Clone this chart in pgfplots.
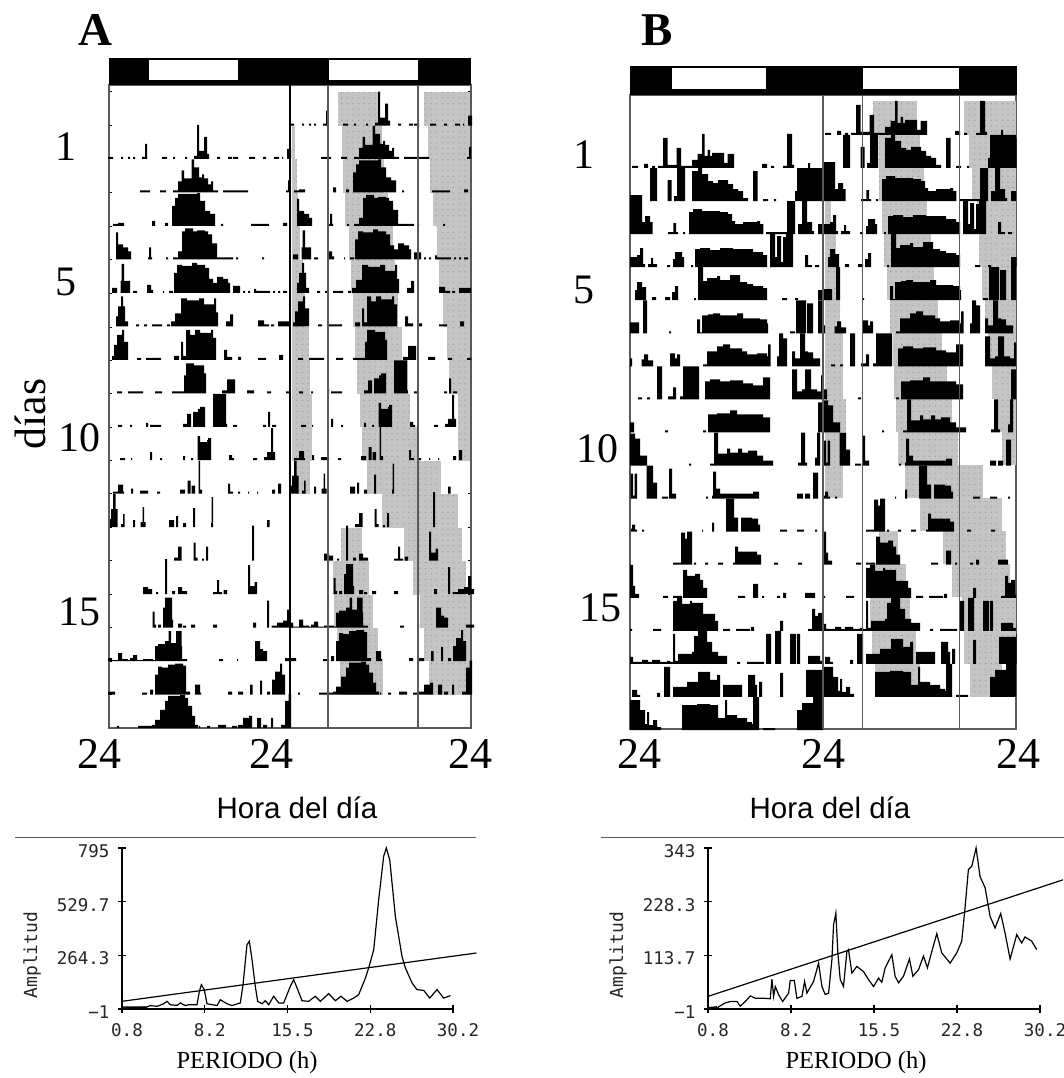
\documentclass[border=0pt]{standalone}
\usepackage{fontspec}
\usepackage{pgfplots}
\pgfplotsset{compat=1.18}
\usetikzlibrary{patterns}
\setmainfont{Liberation Serif}
\newfontfamily\arial{Liberation Sans}
\newfontfamily\monof{DejaVu Sans Mono}
\newcommand\fs[1]{\fontsize{#1pt}{#1pt}\selectfont}
\pgfdeclarepatternformonly{gdots}{\pgfqpoint{-1pt}{-1pt}}{\pgfqpoint{1pt}{1pt}}{\pgfqpoint{5.6pt}{5.6pt}}{\pgfpathcircle{\pgfqpoint{0pt}{0pt}}{0.55pt}\pgfusepath{fill}}
\definecolor{bandg}{HTML}{C4C4C4}
\definecolor{bandd}{HTML}{8E8E8E}
\definecolor{axg}{HTML}{5A5A5A}
\pgfplotsset{
  acto/.style={scale only axis,clip=false,axis line style={draw=axg,line width=1.4pt},xtick=\empty,yticklabels={},tick style={draw=black,line width=1pt}},
  period/.style={scale only axis,clip=false,width=331pt,height=161pt,axis lines=left,axis line style={-,black,line width=1.4pt},
    tick align=center,major tick length=8pt,tick style={black,line width=1.2pt},
    xmin=0.8,xmax=30.2,xtick={0.8,8.15,15.5,22.85,30.2},xticklabels={0.8,8.2,15.5,22.8,30.2},
    ticklabel style={font=\monof\fs{17.5},text=black!85},
    xticklabel style={xshift=5pt,yshift=-7pt},yticklabel style={xshift=-5pt,yshift=-3pt}},
  bar/.style={fill=black,draw=none,const plot},
  gb/.style={fill=bandg,draw=none,postaction={pattern=gdots,pattern color=bandd}},
  cur/.style={black,line width=1.2pt,sharp plot},
}
% one blob of activity of day #1, starting at x=#2: plotted in its row and, double-plotted, one row up and 24 h to the right
\newcommand\A[3]{%
 \addplot[bar] table[row sep=\\,x expr=\thisrowno{0},y expr=-(159+33.47*#1-\thisrowno{1})]{#2 0\\#2 #3};
 \addplot[bar] table[row sep=\\,x expr=\thisrowno{0}+181,y expr=-(125.53+33.47*#1-\thisrowno{1})]{#2 0\\#2 #3};}
\newcommand\B[3]{%
 \addplot[bar] table[row sep=\\,x expr=\thisrowno{0},y expr=-(168+33.06*#1-\thisrowno{1})]{#2 0\\#2 #3};
 \addplot[bar] table[row sep=\\,x expr=\thisrowno{0}+193,y expr=-(134.94+33.06*#1-\thisrowno{1})]{#2 0\\#2 #3};}
\newcommand\bandA[3]{\addplot[gb] table[row sep=\\,y expr=-(92.5+33.47*(#1+\thisrowno{1}))]{#2 0\\#3 0\\#3 1\\#2 1\\};}
\newcommand\bandB[3]{\addplot[gb] table[row sep=\\,y expr=-(101.5+33.06*(#1+\thisrowno{1}))]{#2 0\\#3 0\\#3 1\\#2 1\\};}
\begin{document}
\begin{tikzpicture}
\path[use as bounding box] (0,0) rectangle (1064pt,-1078pt);
%---------------- actogram A
\begin{axis}[acto,at={(109pt,-728pt)},anchor=south west,width=362pt,height=643pt,
  xmin=109,xmax=471,ymin=-728,ymax=-85,major tick length=3pt,
  ytick={-92,-126,-159,-192,-226,-259,-293,-327,-360,-393,-427,-460,-493,-527,-560,-594,-627,-661,-694}]
\bandA{0}{338}{378}\bandA{0}{424}{470}
\bandA{1}{342}{382}\bandA{1}{428}{470}\bandA{1}{292}{295}
\bandA{2}{343}{384}\bandA{2}{430}{470}\bandA{2}{292}{297}
\bandA{3}{345}{388}\bandA{3}{433}{470}\bandA{3}{292}{298}
\bandA{4}{349}{393}\bandA{4}{437}{470}\bandA{4}{292}{300}
\bandA{5}{351}{395}\bandA{5}{439}{470}\bandA{5}{292}{303}
\bandA{6}{353}{398}\bandA{6}{443}{470}\bandA{6}{292}{305}
\bandA{7}{355}{402}\bandA{7}{447}{470}\bandA{7}{292}{309}
\bandA{8}{357}{408}\bandA{8}{449}{470}\bandA{8}{292}{310}
\bandA{9}{360}{410}\bandA{9}{458}{470}\bandA{9}{292}{312}
\bandA{10}{362}{418}\bandA{10}{458}{470}\bandA{10}{292}{312}
\bandA{11}{367}{441}\bandA{11}{296}{310}
\bandA{12}{382}{458}
\bandA{13}{341}{362}\bandA{13}{404}{462}
\bandA{14}{333}{369}\bandA{14}{413}{466}
\bandA{15}{334}{373}\bandA{15}{420}{470}
\bandA{16}{337}{378}\bandA{16}{424}{470}
\bandA{17}{340}{383}\bandA{17}{429}{470}
\A{0}{108}{2\\113 0\\}\A{0}{121}{2\\123 0\\}\A{0}{128}{2\\130 0\\}\A{0}{133}{2\\135 0\\}\A{0}{142}{2\\147 0\\}\A{0}{145}{15\\147 0\\}\A{0}{162}{2\\167 0\\}\A{0}{173}{2\\175 0\\}\A{0}{185}{2\\187 0\\}
\A{0}{194}{3\\197 34\\199 8\\204 22\\207 5\\209 0\\}\A{0}{217}{2\\220 0\\}\A{0}{228}{2\\232 0\\}\A{0}{233}{2\\238 0\\}\A{0}{249}{2\\255 0\\}\A{0}{263}{2\\266 0\\}\A{0}{274}{2\\279 0\\}\A{0}{282}{2\\283 0\\}\A{0}{287}{10\\291 0\\}
\A{1}{140}{2\\150 0\\}\A{1}{160}{2\\166 0\\}\A{1}{173}{2\\178 11\\181.5 22\\184 14\\191.7 33\\194 25\\199 15\\202 18\\204 14\\208 8\\211 11\\213 2\\218 0\\}\A{1}{223}{2\\248 0\\}\A{1}{286}{2\\288 12\\290 0\\}
\A{2}{113}{2\\118 3\\124 0\\}\A{2}{152}{5\\155 0\\}\A{2}{165}{3\\168 0\\}\A{2}{172}{20\\175 28\\178 32\\197 33\\200 25\\205 15\\210 12\\215 0\\}\A{2}{221}{2\\223 0\\}\A{2}{251}{2\\269 0\\}\A{2}{283}{3\\287 0\\}
\A{3}{116}{27\\118 15\\123 12\\128 8\\131 0\\}\A{3}{148}{2\\149 12\\151 2\\152 0\\}\A{3}{166}{2\\168 0\\}\A{3}{173}{2\\178 8\\182 28\\185 31\\193 28\\197 29\\205 28\\208 25\\212 16\\217 2\\233 0\\}\A{3}{236}{2\\238 0\\}\A{3}{262}{2\\264 0\\}
\A{4}{112}{5\\117 0\\}\A{4}{120.5}{12\\121.5 29\\124 12\\130 0\\}\A{4}{133}{2\\137 0\\}\A{4}{147}{8\\151 3\\153 0\\}\A{4}{163}{2\\164 0\\}\A{4}{169}{2\\173 0\\}\A{4}{174}{20\\177 28\\182 27\\192 30\\197 28\\200 28\\205 25\\209 14\\213 10\\217 16\\223 14\\228 10\\230 0\\}\A{4}{233}{7\\240 0\\}\A{4}{243}{2\\245 0\\}\A{4}{248}{2\\250 0\\}\A{4}{254}{4\\256 2\\270 0\\}\A{4}{273}{2\\275 0\\}\A{4}{278}{2\\280 0\\}\A{4}{283}{2\\287 0\\}
\A{5}{116}{10\\118 20\\121 30\\123 20\\125 5\\128 0\\}\A{5}{136}{2\\139 0\\}\A{5}{144}{2\\147 0\\}\A{5}{152}{2\\162 0\\}\A{5}{167}{2\\170 0\\}\A{5}{171}{5\\175 13\\181 28\\187 26\\199 28\\204 22\\214 28\\216 14\\218 0\\}\A{5}{226}{5\\230 12\\233 0\\}\A{5}{258}{6\\264 2\\269 0\\}\A{5}{271}{2\\274 0\\}\A{5}{278}{5\\290 0\\}
\A{6}{112}{4\\114 15\\117 25\\122 30\\124 18\\128 0\\}\A{6}{137}{2\\141 0\\}\A{6}{146}{2\\161 0\\}\A{6}{174}{4\\179 0\\}\A{6}{181}{18\\183 4\\186 30\\190 25\\195 30\\200 27\\211 30\\213 22\\216 0\\}\A{6}{224}{10\\227 3\\232 0\\}\A{6}{238}{3\\241 0\\}\A{6}{258}{2\\266 0\\}\A{6}{279}{5\\283 0\\}
\A{7}{117}{2\\122 0\\}\A{7}{128}{2\\143 0\\}\A{7}{155}{2\\162 0\\}\A{7}{172}{2\\184 18\\186 30\\194 28\\204 20\\206 0\\}\A{7}{222}{3\\227 14\\232 14\\235 0\\}\A{7}{247}{3\\254 0\\}\A{7}{267}{2\\271 0\\}\A{7}{286}{2\\290 0\\}
\A{8}{118}{2\\122 0\\}\A{8}{130}{2\\132 0\\}\A{8}{146}{4\\148 0\\}\A{8}{150}{2\\161 0\\}\A{8}{183}{3\\187 13\\191 0\\}\A{8}{193}{15\\198 18\\200 20\\205 0\\}\A{8}{213}{33\\226 3\\227 0\\}\A{8}{233}{2\\237 0\\}\A{8}{263}{2\\266 0\\}\A{8}{268}{15\\270 0\\}\A{8}{272}{2\\276 0\\}
\A{9}{120}{2\\125 0\\}\A{9}{131}{2\\132 0\\}\A{9}{150}{8\\152 0\\}\A{9}{160}{2\\162 0\\}\A{9}{183}{4\\185 0\\}\A{9}{191}{2\\193 0\\}\A{9}{197.5}{24\\200 18\\207 20\\208 22\\211 0\\}\A{9}{229}{5\\232 2\\234 0\\}\A{9}{253}{2\\257 0\\}\A{9}{264}{3\\267 8\\271 32\\273 8\\275 0\\}
\A{10}{113}{2\\118 9\\123 2\\124 0\\}\A{10}{131}{5\\133 0\\}\A{10}{140}{3\\148 0\\}\A{10}{157}{2\\160 0\\}\A{10}{180}{4\\185 0\\}\A{10}{187.5}{13\\190.5 0\\}\A{10}{191.5}{8\\195 0\\}\A{10}{198.7}{33\\200 4\\202 0\\}\A{10}{228}{10\\230 2\\233 0\\}\A{10}{238}{2\\240 0\\}\A{10}{248}{2\\249 0\\}\A{10}{257}{2\\258 0\\}\A{10}{272}{4\\275 0\\}\A{10}{278}{10\\281 0\\}
\A{11}{110}{8\\111 18\\113 33\\115.5 18\\117.5 0\\}\A{11}{121}{3\\123 13\\124.5 0\\}\A{11}{133}{7\\135 0\\}\A{11}{140.5}{5\\142.5 20\\144 5\\145.5 0\\}\A{11}{169}{7\\174 0\\}\A{11}{176}{11\\178 0\\}\A{11}{183}{4\\186 0\\}\A{11}{193}{19\\195 0\\}\A{11}{211}{4\\211.5 30\\213 0\\}\A{11}{267}{7\\269.5 0\\}
\A{12}{174}{3\\178 14\\181.7 0\\}\A{12}{193.5}{18\\195.5 3\\197.5 0\\}\A{12}{202}{2\\204 0\\}\A{12}{206}{14\\208 0\\}\A{12}{252}{35\\254 0\\}
\A{13}{143}{7\\148 5\\152 0\\}\A{13}{156}{2\\158 0\\}\A{13}{165}{35\\167 0\\}\A{13}{172}{3\\175 0\\}\A{13}{178}{7\\182 3\\187 0\\}\A{13}{213}{2\\217 14\\219 2\\222 0\\}\A{13}{223.5}{4\\227 0\\}\A{13}{248}{29\\250 8\\254.5 12\\257 0\\}
\A{14}{152.5}{16\\154.5 3\\156 0\\}\A{14}{158}{3\\161 0\\}\A{14}{163}{20\\165 30\\172 8\\173 0\\}\A{14}{178}{4\\182 0\\}\A{14}{183}{2\\186 0\\}\A{14}{191}{3\\195 0\\}\A{14}{213}{3\\217 0\\}\A{14}{253}{5\\256 0\\}\A{14}{267}{27\\269 0\\}\A{14}{271.5}{2\\277 5\\283 7\\287 18\\290 5\\293 0\\}
\A{15}{108}{3\\112 1\\118 8\\122 2\\128 1\\130 3\\133 6\\137 1\\143 2\\153 1\\155 15\\158 17\\165 20\\168.5 30\\171 18\\176 30\\181.5 15\\182 2\\187 0\\}\A{15}{219}{2\\223 0\\}\A{15}{237}{2\\238 0\\}\A{15}{255}{20\\260 12\\263 10\\267 0\\}\A{15}{285}{3\\293 0\\}
\A{16}{108}{3\\115 0\\}\A{16}{142}{2\\147 0\\}\A{16}{150}{5\\153 0\\}\A{16}{155}{20\\158 28\\162 27\\168 30\\175 31\\183 29\\186 3\\190 0\\}\A{16}{195}{10\\200 2\\201 0\\}\A{16}{228}{3\\232 0\\}\A{16}{238}{3\\243 0\\}\A{16}{250}{10\\252.5 0\\}\A{16}{260}{14\\262 0\\}\A{16}{267}{3\\270 0\\}\A{16}{272}{15\\275 23\\280 31\\282 20\\285 0\\}
\A{17}{117}{2\\119 0\\}\A{17}{138}{2\\152 3\\155 8\\160 18\\165 27\\168 32\\180 33\\185 30\\188 22\\192 12\\195 3\\198 0\\}\A{17}{199}{2\\200 0\\}\A{17}{207}{2\\210 0\\}\A{17}{218}{3\\226 0\\}\A{17}{232}{2\\237 0\\}\A{17}{238}{3\\243 10\\249 12\\252 0\\}\A{17}{257}{10\\261 0\\}\A{17}{263}{3\\267 0\\}\A{17}{271}{10\\273 0\\}\A{17}{281}{3\\285 27\\288.5 34\\291 0\\}
\end{axis}
%---------------- actogram B
\begin{axis}[acto,at={(630pt,-729pt)},anchor=south west,width=386pt,height=634pt,
  xmin=630,xmax=1016,ymin=-729,ymax=-95,ytick=\empty]
\bandB{0}{873}{917}\bandB{0}{964}{1016}
\bandB{1}{879}{920}\bandB{1}{969}{1016}
\bandB{2}{879}{924}\bandB{2}{972}{1016}
\bandB{3}{882}{927}\bandB{3}{977}{1016}\bandB{3}{825}{831}
\bandB{4}{884}{931}\bandB{4}{979}{1016}\bandB{4}{825}{836}
\bandB{5}{887}{934}\bandB{5}{982}{1016}\bandB{5}{825}{839}
\bandB{6}{890}{938}\bandB{6}{985}{1016}\bandB{6}{825}{840}
\bandB{7}{893}{942}\bandB{7}{988}{1016}\bandB{7}{825}{843}
\bandB{8}{894}{947}\bandB{8}{992}{1016}\bandB{8}{825}{843}
\bandB{9}{896}{952}\bandB{9}{997}{1016}\bandB{9}{825}{846}
\bandB{10}{898}{958}\bandB{10}{1002}{1016}\bandB{10}{825}{840}
\bandB{11}{905}{983}\bandB{11}{825}{843}
\bandB{12}{920}{1002}
\bandB{13}{943}{1006}\bandB{13}{879}{898}
\bandB{14}{952}{1010}\bandB{14}{870}{906}
\bandB{15}{962}{1016}\bandB{15}{870}{910}
\bandB{16}{964}{1016}\bandB{16}{872}{916}
\bandB{17}{970}{1002}\bandB{17}{875}{920}
\B{0}{632}{2\\638 0\\}\B{0}{644}{4\\648 0\\}\B{0}{652}{2\\655 0\\}\B{0}{658}{2\\663 30\\667.5 3\\676.5 20\\681 2\\692 8\\697.5 14\\702 34\\704.5 12\\707.5 18\\710 12\\712 15\\724 5\\727.5 14\\734 0\\}\B{0}{762}{4\\767 0\\}\B{0}{771}{2\\774 0\\}\B{0}{783}{2\\787 34\\792 3\\794 0\\}
\B{1}{650}{33\\657 0\\}\B{1}{667.7}{21\\671.7 0\\}\B{1}{674}{5\\677 33\\685 0\\}\B{1}{692}{30\\698 33\\702 27\\708 20\\713 18\\718 21\\728 17\\733 12\\738 10\\743 3\\748 0\\}\B{1}{753}{30\\757.5 0\\}\B{1}{763}{2\\768 0\\}\B{1}{774}{2\\776 0\\}\B{1}{795}{10\\797 33\\808 38\\810 33\\823 30\\823.5 0\\}
\B{2}{630}{39\\642 12\\645 18\\650 12\\652.7 0\\}\B{2}{668}{2\\673.3 11\\676 2\\678 0\\}\B{2}{683}{2\\685 0\\}\B{2}{689}{22\\693 25\\702 23\\720 22\\728 20\\732 13\\735 10\\743 12\\757 13\\760 10\\763.3 0\\}\B{2}{766}{2\\787 33\\795 0\\}\B{2}{798}{10\\802 33\\807 12\\812 3\\814 0\\}\B{2}{818}{10\\823 0\\}
\B{3}{630}{10\\637 12\\640 19\\643 3\\645 0\\}\B{3}{648}{3\\651 9\\653 3\\657 0\\}\B{3}{667}{2\\670 0\\}\B{3}{673}{8\\675 15\\682 10\\684 0\\}\B{3}{691}{2\\693 0\\}\B{3}{695}{18\\700 19\\710 17\\720 19\\733 18\\753 15\\763 12\\767 0\\}\B{3}{770}{33\\775 10\\777 31\\781 5\\783 30\\786 33\\793 0\\}\B{3}{805}{12\\808 2\\812 0\\}\B{3}{815}{2\\819 0\\}
\B{4}{635}{10\\637 18\\642 13\\646 0\\}\B{4}{652}{3\\656 0\\}\B{4}{665}{3\\670 0\\}\B{4}{672}{8\\675 14\\678 0\\}\B{4}{694}{2\\696 0\\}\B{4}{698}{33\\703 19\\707 22\\717 24\\720 20\\730 25\\740 18\\747 16\\753 14\\763 12\\767 0\\}\B{4}{782}{2\\787 0\\}\B{4}{795}{2\\798 0\\}\B{4}{818}{10\\823.5 0\\}
\B{5}{630}{11\\639 0\\}\B{5}{643}{33\\647 0\\}\B{5}{669}{2\\671 0\\}\B{5}{697}{14\\700 1\\702 18\\708 19\\713 20\\720 18\\737 20\\743 15\\760 14\\767 10\\768 0\\}\B{5}{790}{2\\795 0\\}\B{5}{796}{33\\806 0\\}\B{5}{807}{30\\813 0\\}\B{5}{818}{33\\823 0\\}
\B{6}{630}{8\\632 0\\}\B{6}{641.7}{7\\644 12\\648 6\\653 0\\}\B{6}{670}{13\\675 8\\677 12\\680 0\\}\B{6}{703}{2\\707 15\\717 20\\723 22\\730 18\\742 15\\747 12\\757 13\\767 10\\768 22\\770.7 0\\}\B{6}{777}{10\\779 33\\783 28\\787 0\\}\B{6}{792}{15\\795 8\\800 33\\805 15\\808 14\\813 8\\820 0\\}
\B{7}{638}{2\\642 0\\}\B{7}{647}{2\\650 0\\}\B{7}{657}{33\\662 0\\}\B{7}{668}{3\\673 12\\676 0\\}\B{7}{680}{3\\683 33\\699 0\\}\B{7}{705}{18\\710 20\\720 18\\730 19\\743 16\\753 14\\763 22\\770 0\\}\B{7}{792}{30\\797 8\\802 10\\805 30\\811 10\\817 8\\821 24\\823 0\\}
\B{8}{630}{10\\634 0\\}\B{8}{665}{2\\668 0\\}\B{8}{703}{2\\706 0\\}\B{8}{708}{18\\717 19\\730 22\\737 18\\753 18\\763 15\\770 0\\}\B{8}{818}{30\\823 0\\}
\B{9}{630}{32\\635 27\\640 10\\647 0\\}\B{9}{689}{2\\691 0\\}\B{9}{710}{2\\714 33\\718 12\\727 17\\730 13\\738 17\\742 13\\748 15\\757 10\\763 5\\773 0\\}\B{9}{798}{3\\801 33\\805 3\\807 0\\}\B{9}{815}{8\\817 33\\820 0\\}
\B{10}{630.5}{25\\633 3\\634.5 25\\637 0\\}\B{10}{646.5}{33\\653 16\\657 0\\}\B{10}{662}{2\\668 0\\}\B{10}{669}{30\\672 5\\676 0\\}\B{10}{706}{2\\708 0\\}\B{10}{712}{3\\713 27\\716 10\\720 5\\753 7\\759 0\\}\B{10}{797}{5\\803 0\\}\B{10}{805}{5\\810 0\\}\B{10}{813}{26\\818 0\\}
\B{11}{631}{3\\632 7\\635 2\\637 0\\}\B{11}{642}{2\\644 0\\}\B{11}{702}{2\\703 0\\}\B{11}{712}{9\\714 0\\}\B{11}{726}{33\\734 14\\738 0\\}\B{11}{741}{14\\752 13\\758 7\\760 0\\}\B{11}{780}{2\\787 0\\}\B{11}{797}{2\\804 0\\}\B{11}{815}{2\\817 0\\}
\B{12}{673}{2\\681 32\\685 26\\687 33\\692 0\\}\B{12}{694}{2\\696 0\\}\B{12}{705}{2\\708 0\\}\B{12}{718}{2\\723 0\\}\B{12}{733}{2\\735 18\\738 13\\750 13\\757 10\\761 0\\}\B{12}{774}{2\\778 0\\}\B{12}{798}{2\\802 0\\}
\B{13}{630}{33\\633 12\\635 4\\639 0\\}\B{13}{663}{2\\668 0\\}\B{13}{673}{2\\682 0\\}\B{13}{683}{28\\687 22\\695 24\\700 18\\703 10\\707 0\\}\B{13}{738}{2\\745 0\\}\B{13}{753}{14\\758 0\\}\B{13}{762}{2\\764 0\\}\B{13}{777}{2\\780 0\\}\B{13}{783}{5\\786 0\\}\B{13}{805}{5\\815 0\\}
\B{14}{630}{2\\632 0\\}\B{14}{653}{2\\661 0\\}\B{14}{673}{30\\677 33\\682 27\\690 30\\692 28\\700 28\\703 17\\715 10\\718 0\\}\B{14}{723}{2\\730 0\\}\B{14}{736}{2\\750 0\\}\B{14}{751}{4\\754 0\\}\B{14}{780}{10\\783 0\\}\B{14}{808}{2\\812 22\\815 15\\818 18\\822 3\\823 0\\}
\B{15}{630}{7\\633 2\\642 4\\648 2\\652 4\\660 2\\667 3\\670 2\\673 30\\675 3\\678 10\\692 12\\694 28\\698 33\\707 22\\712 12\\718 8\\727 0\\}\B{15}{737}{2\\740 0\\}\B{15}{747}{2\\764 0\\}\B{15}{766}{30\\771 0\\}\B{15}{775}{33\\781 0\\}\B{15}{790}{30\\796 0\\}\B{15}{797}{30\\800 0\\}\B{15}{808}{8\\820 3\\823 0\\}
\B{16}{632}{7\\637 2\\640 0\\}\B{16}{657}{4\\660 0\\}\B{16}{664}{30\\670 0\\}\B{16}{673}{10\\687 15\\698 25\\710 17\\717 22\\720 0\\}\B{16}{723}{12\\742 0\\}\B{16}{748}{22\\755 12\\757 0\\}\B{16}{759}{15\\762 0\\}\B{16}{780}{24\\783 0\\}\B{16}{806}{27\\823 30\\823.5 0\\}
\B{17}{630}{30\\640 20\\645 6\\647 18\\649 5\\653 10\\657 3\\661 0\\}\B{17}{682}{25\\697 26\\710 25\\718 12\\725 30\\727 15\\737 12\\747 8\\752 6\\753 33\\759 0\\}\B{17}{763}{2\\775 0\\}\B{17}{797}{20\\802 27\\807 27\\813 33\\823 0\\}
\end{axis}
%---------------- decorations of the actograms
\fill[black] (109pt,-58pt) rectangle (471pt,-85pt);
\fill[white] (149pt,-60pt) rectangle (238pt,-80pt);
\fill[white] (329pt,-60pt) rectangle (418pt,-80pt);
\draw[black,line width=2.6pt] (290pt,-85pt) -- (290pt,-728pt);
\draw[axg,line width=1.5pt] (328pt,-85pt) -- (328pt,-728pt) (418pt,-85pt) -- (418pt,-728pt);
\fill[black] (629.5pt,-66pt) rectangle (1017pt,-95pt);
\fill[white] (672pt,-68pt) rectangle (766pt,-89pt);
\fill[white] (863pt,-68pt) rectangle (959pt,-89pt);
\draw[axg,line width=1.5pt] (823pt,-95pt) -- (823pt,-729pt) (862.5pt,-95pt) -- (862.5pt,-729pt) (959.5pt,-95pt) -- (959.5pt,-729pt);
%---------------- periodogram A
\begin{axis}[period,at={(122pt,-1009pt)},anchor=south west,ymin=-1,ymax=795,
  ytick={-1,264.3,529.7,795},yticklabels={−1,264.3,529.7,795}]
\addplot[cur] table[row sep=\\]{0.8 9\\3.02 9\\3.32 16\\3.91 12\\4.50 25\\4.80 37\\5.09 20\\5.69 17\\5.98 29\\6.43 16\\6.72 20\\7.46 20\\7.67 86\\7.85 119\\8.11 95\\8.35 25\\9.24 16\\9.53 45\\10.13 25\\10.57 16\\11.31 29\\11.55 119\\11.90 317\\12.11 334\\12.35 243\\12.64 111\\12.85 37\\13.24 25\\13.53 40\\13.83 20\\14.27 62\\14.72 29\\15.16 29\\15.75 111\\16.05 144\\16.35 103\\16.79 40\\17.38 37\\17.97 62\\18.42 37\\19.16 75\\19.75 40\\20.25 62\\20.79 37\\21.38 53\\21.82 70\\22.42 152\\22.71 202\\23.16 292\\23.60 540\\24.04 754\\24.28 795\\24.58 737\\25.08 457\\25.67 259\\25.97 202\\26.56 128\\27.0 95\\27.60 91\\28.13 53\\28.78 95\\29.37 53\\29.97 65\\};
\addplot[black,line width=1.2pt] table[row sep=\\]{0.8 37\\32.28 276\\};
\addplot[black,line width=2pt] table[row sep=\\]{0.8 2\\3.0 6\\};
\end{axis}
%---------------- periodogram B
\begin{axis}[period,at={(708pt,-1009pt)},anchor=south west,width=332pt,ymin=-1,ymax=343,
  ytick={-1,113.7,228.3,343},yticklabels={−1,113.7,228.3,343}]
\addplot[cur] table[row sep=\\]{0.80 1\\1.60 1\\1.89 6\\2.33 12\\2.78 15\\3.37 15\\3.66 5\\4.10 15\\4.55 27\\4.99 22\\5.72 22\\6.31 21\\6.46 63\\6.61 26\\6.76 47\\7.05 30\\7.41 15\\7.94 33\\8.08 60\\8.44 60\\8.67 22\\9.12 26\\9.35 58\\9.56 33\\10.15 58\\10.59 97\\10.89 47\\11.18 30\\11.48 33\\11.77 104\\11.92 179\\12.12 204\\12.30 119\\12.51 62\\12.80 47\\13.10 122\\13.24 126\\13.54 76\\13.98 90\\14.57 79\\15.01 62\\15.46 47\\15.90 65\\16.19 56\\16.49 87\\17.08 115\\17.37 69\\17.67 55\\18.11 69\\18.64 106\\18.94 69\\19.44 83\\19.88 112\\20.23 87\\20.62 122\\21.06 160\\21.50 119\\22.24 97\\22.83 119\\23.27 144\\23.57 218\\23.86 297\\24.16 304\\24.54 343\\24.89 282\\25.34 258\\25.78 197\\26.22 172\\26.72 203\\27.11 161\\27.55 106\\28.14 158\\28.58 140\\28.87 153\\29.46 144\\29.91 126\\};
\addplot[black,line width=1.2pt] table[row sep=\\]{0.8 26\\32.24 275\\};
\addplot[black,line width=2pt] table[row sep=\\]{0.8 1\\1.6 3\\};
\end{axis}
%---------------- rules and text
\draw[axg,line width=1.3pt] (15pt,-837.5pt) -- (476pt,-837.5pt);
\draw[axg,line width=1.3pt] (601pt,-837.5pt) -- (1064pt,-837.5pt);
\node[font=\bfseries\fs{47}] at (95pt,-30pt) {A};
\node[font=\bfseries\fs{47}] at (657pt,-30pt) {B};
\foreach \x/\y/\t in {66/147/1,66/282/5,79/438/10,79/612/15,584/155/1,584/290/5,597/449/10,600/608/15}
  \node[font=\fs{42}] at (\x pt,-\y pt) {\t};
\node[font=\fs{44},rotate=90] at (30pt,-414pt) {días};
\foreach \x in {99,271,470,639,823,1018}
  \node[font=\fs{44}] at (\x pt,-754pt) {24};
\node[font=\arial\fs{29.5}] at (297pt,-808pt) {Hora del día};
\node[font=\arial\fs{29.5}] at (830pt,-808pt) {Hora del día};
\node[font=\fs{24.5}] at (247pt,-1063pt) {PERIODO (h)};
\node[font=\fs{24.5}] at (856pt,-1063pt) {PERIODO (h)};
\node[font=\monof\fs{18},rotate=90,text=black!85] at (32pt,-955pt) {Amplitud};
\node[font=\monof\fs{18},rotate=90,text=black!85] at (618pt,-955pt) {Amplitud};
\end{tikzpicture}
\end{document}
